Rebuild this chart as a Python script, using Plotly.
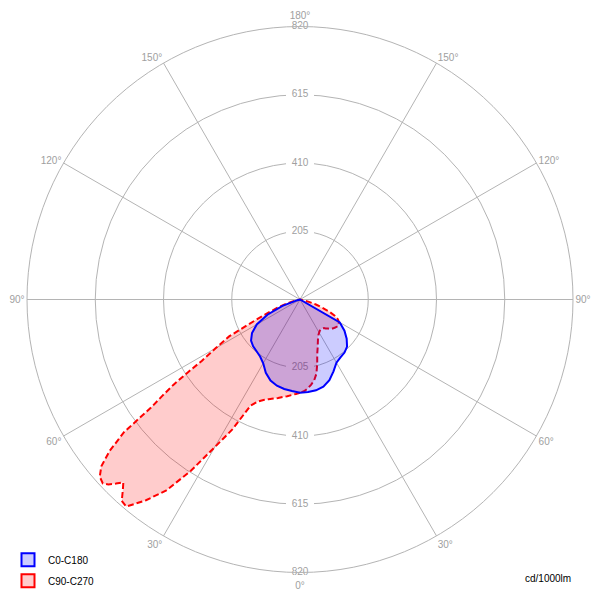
import plotly.graph_objects as go

# luminous intensity, cd/1000lm, read per half-plane against gamma angle
gamma_c0 = [0, 5, 10, 15, 20, 25, 30, 35, 40, 45, 50, 55, 60, 65, 70, 75, 80, 90, 180]
c0_left = [280, 276, 273, 268, 259, 243, 221, 209, 203, 199, 192, 176, 150, 108, 56, 8, 0, 0, 0]
c180_right = [280, 279, 277, 271, 258, 238, 219, 212, 208, 200, 183, 163, 138, 0, 0, 0, 0, 0, 0]

gamma_c90 = [0, 2.5, 5, 7.5, 10, 12.5, 15, 17.5, 20, 22.5, 25, 27.5, 30, 32.5, 35, 37.5,
             40, 41.5, 43, 44, 45, 46, 47, 48.5, 50, 51.5, 53, 54, 55, 56, 57, 58, 60,
             62.5, 65, 67.5, 70, 72.5, 75, 77.5, 80, 90, 180]
c90_left = [280, 284, 288, 293, 297, 303, 308, 314, 321, 332, 352, 440, 512, 610, 700, 760,
            812, 808, 780, 764, 782, 800, 810, 803, 779, 730, 662, 555, 505, 460, 402, 348, 292,
            240, 150, 100, 72, 48, 25, 5, 0, 0, 0]
c270_right = [280, 276, 268, 258, 246, 228, 200, 172, 155, 140, 128, 120, 115, 111, 110, 110,
              112, 116, 119, 121, 124, 126, 128, 131, 133, 135, 137, 138, 139, 139, 138, 137, 135,
              128, 115, 95, 70, 50, 30, 10, 0, 0, 0]

radial_ticks = [205, 410, 615, 820]
angle_ticks = [30, 60, 90, 120, 150, 210, 240, 270, 300, 330]
angle_labels = ["30°", "60°", "90°", "120°", "150°", "150°", "120°", "90°", "60°", "30°"]
# the two vertical-axis angles sit below/above the 820 value label
end_angles = [0, 180]
end_labels = ["0°", "180°"]

GRID = "#b4b4b4"
LABEL = "#a0a0a0"
FONT = "Liberation Sans"


def closed_curve(gamma, left, right):
    # left half: theta = gamma, right half: theta = 360 - gamma
    theta = list(gamma) + [360 - g for g in reversed(gamma)]
    r = list(left) + list(reversed(right))
    return r, theta


fig = go.Figure()

# radial value labels on the vertical axis, with a white backing
fig.add_trace(go.Scatterpolar(
    r=radial_ticks + radial_ticks,
    theta=[0] * len(radial_ticks) + [180] * len(radial_ticks),
    mode="markers+text",
    text=[str(v) for v in radial_ticks] * 2,
    textposition="middle center",
    textfont=dict(color=LABEL, size=10, family=FONT),
    marker=dict(symbol="line-ew", size=20, color="white",
                line=dict(color="white", width=10)),
    cliponaxis=False,
    showlegend=False,
    hoverinfo="skip",
))

# 0° / 180° angle labels outside the 820 ring
fig.add_trace(go.Scatterpolar(
    r=[radial_ticks[-1]] * 2,
    theta=end_angles,
    mode="markers+text",
    text=end_labels,
    textposition=["bottom center", "top center"],
    textfont=dict(color=LABEL, size=10, family=FONT),
    marker=dict(size=[12, 6], color="rgba(0,0,0,0)"),
    cliponaxis=False,
    showlegend=False,
    hoverinfo="skip",
))

r90, t90 = closed_curve(gamma_c90, c90_left, c270_right)
fig.add_trace(go.Scatterpolar(
    r=r90, theta=t90, mode="lines", fill="toself",
    line=dict(color="#ff0000", width=2, dash="6px,3px"),
    fillcolor="rgba(255,0,0,0.2)",
    showlegend=False,
))

r0, t0 = closed_curve(gamma_c0, c0_left, c180_right)
fig.add_trace(go.Scatterpolar(
    r=r0, theta=t0, mode="lines", fill="toself",
    line=dict(color="#0000ff", width=2),
    fillcolor="rgba(0,0,255,0.2)",
    showlegend=False,
))

# legend keys (square swatches)
for name, line_c, fill_c, rank in [
    ("C0-C180", "#0000ff", "rgba(0,0,255,0.2)", 1),
    ("C90-C270", "#ff0000", "rgba(255,0,0,0.2)", 2),
]:
    fig.add_trace(go.Scatterpolar(
        r=[None], theta=[None], mode="markers", name=name,
        marker=dict(symbol="square", size=13, color=fill_c,
                    line=dict(color=line_c, width=2)),
        legendrank=rank, legendgroup=name,
    ))

fig.add_annotation(
    text="cd/1000lm", x=0.937, y=0.05, xref="paper", yref="paper",
    xanchor="right", yanchor="middle", showarrow=False,
    font=dict(color="black", size=10, family=FONT),
)

fig.update_layout(
    width=603,
    height=601,
    margin=dict(l=0, r=0, t=0, b=0),
    paper_bgcolor="white",
    font=dict(family=FONT, size=10),
    polar=dict(
        domain=dict(x=[19 / 603, 565 / 603], y=[36.5 / 601, 582.5 / 601]),
        bgcolor="white",
        angularaxis=dict(
            rotation=-90,
            direction="clockwise",
            tickmode="array",
            tickvals=angle_ticks,
            ticktext=angle_labels,
            ticks="",
            gridcolor=GRID,
            linecolor=GRID,
            showline=True,
            tickfont=dict(color=LABEL, size=10, family=FONT),
        ),
        radialaxis=dict(
            range=[0, 820],
            tickvals=radial_ticks,
            showticklabels=False,
            ticks="",
            showline=False,
            gridcolor=GRID,
        ),
    ),
    legend=dict(
        x=0, y=0.023, xanchor="left", yanchor="bottom",
        font=dict(color="black", size=10, family=FONT),
        bgcolor="rgba(0,0,0,0)",
        itemwidth=30,
        tracegroupgap=2,
    ),
)

fig.write_html("out.html")
